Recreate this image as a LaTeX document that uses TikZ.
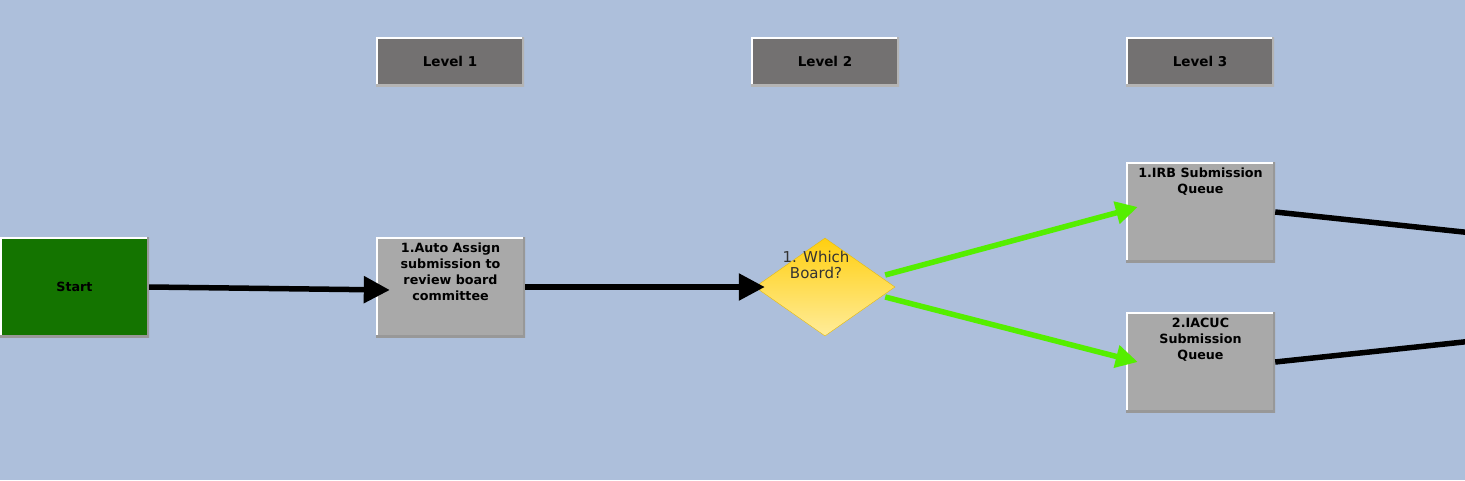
\documentclass[tikz,border=0pt]{standalone}
\usepackage{fontspec}
\setmainfont{DejaVu Sans}
\usepackage{xcolor}
\usetikzlibrary{positioning,arrows.meta,shapes.geometric,calc}

\definecolor{bgblue}{HTML}{ADBFDB}
\definecolor{boxgray}{HTML}{A9A9A9}
\definecolor{edgegray}{HTML}{989898}
\definecolor{levelgray}{HTML}{737171}
\definecolor{levedge}{HTML}{B4B4B4}
\definecolor{startgreen}{HTML}{147400}
\definecolor{okgreen}{HTML}{55EE00}
\definecolor{gold}{HTML}{FFCF10}
\definecolor{paleGold}{HTML}{FFEC9A}
\definecolor{textgray}{HTML}{333333}

\begin{document}
\begin{tikzpicture}[
    x=1pt, y=-1pt,
    bevel/.style = {path picture={
        \draw[white, line width=4pt]
          (path picture bounding box.south west) -- (path picture bounding box.north west)
          -- (path picture bounding box.north east);
        \draw[#1, line width=4pt]
          (path picture bounding box.north east) -- (path picture bounding box.south east)
          -- (path picture bounding box.south west);}},
    box/.style   = {rectangle, fill=boxgray, bevel=edgegray, inner sep=0pt,
                    minimum width=149pt, minimum height=100pt},
    level/.style = {rectangle, fill=levelgray, bevel=levedge, inner sep=0pt,
                    minimum width=148pt, minimum height=49pt,
                    font=\fontsize{13.5}{15}\selectfont\bfseries},
    boxtext/.style = {anchor=north, yshift=-3pt, align=center,
                    font=\fontsize{12.7}{16}\selectfont\bfseries},
    decision/.style = {diamond, draw=gold!90!black, thin, top color=gold,
                    bottom color=paleGold, inner sep=0pt, minimum width=140pt,
                    minimum height=98pt},
    flow/.style  = {line width=5.5pt, -{Triangle[length=26pt,width=26pt]}},
    yes/.style   = {line width=5.5pt, color=okgreen, -{Triangle[length=22pt,width=22pt]}},
]

% background and frame
\fill[bgblue] (0,0) rectangle (1465,480);
\clip (0,0) rectangle (1465,480);

% column headers
\node[level] (lev1) at (450,61.5)  {Level 1};
\node[level] (lev2) at (825,61.5)  {Level 2};
\node[level] (lev3) at (1200,61.5) {Level 3};

% workflow nodes
\node[box, fill=startgreen] (start) at (74.5,287)
      {\fontsize{12.7}{16}\selectfont\bfseries Start};
\node[box, label={[boxtext]north:1.Auto Assign\\submission to\\review board\\committee}]
      (assign) at (450.5,287) {};
\node[decision, label={[anchor=north, yshift=-9.5pt, xshift=-9pt, align=center,
      text=textgray, font=\fontsize{15}{16}\selectfont]north:1. Which\\Board?}]
      (which) at (825,287) {};
\node[box, label={[boxtext]north:1.IRB Submission\\Queue}]
      (irb) at (1200.5,212) {};
\node[box, label={[boxtext]north:2.IACUC\\Submission\\Queue}]
      (iacuc) at (1200.5,362) {};

% loose ends leaving the picture
\coordinate (irbout)   at (1520,238);
\coordinate (iacucout) at (1520,336);

\draw[flow] (start.east) -- ($(assign.west)+(14,3)$);
\draw[flow] (assign.east) -- ($(which.west)+(10,0)$);
\draw[yes]  ($(which.east)+(-10,-12)$) -- ($(irb.west)+(12,-5)$);
\draw[yes]  ($(which.east)+(-10,10)$) -- ($(iacuc.west)+(12,0)$);
\draw[line width=5.5pt] (irb.east) -- (irbout);
\draw[line width=5.5pt] (iacuc.east) -- (iacucout);
\end{tikzpicture}
\end{document}
